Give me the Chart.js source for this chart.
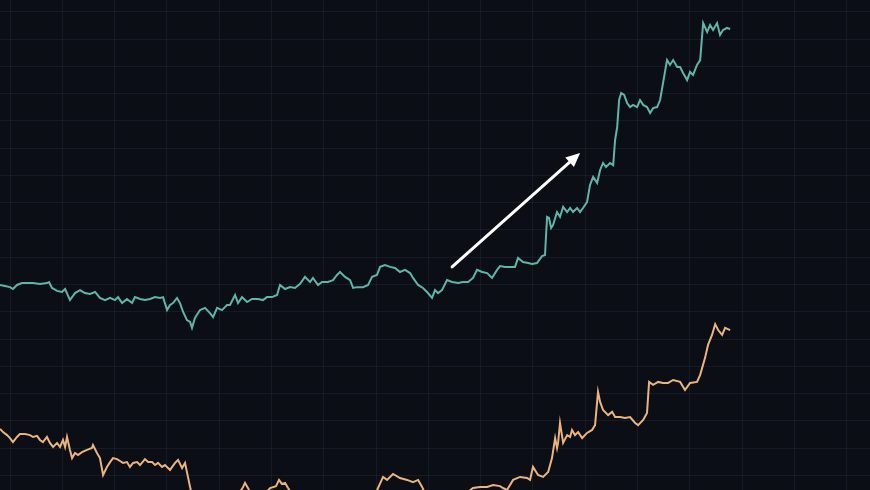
<!DOCTYPE html>
<html>
<head>
<meta charset="utf-8">
<script src="https://cdn.jsdelivr.net/npm/chart.js@4.4.1/dist/chart.umd.min.js"></script>
<style>
  html, body { margin: 0; padding: 0; background: #0b0e15; }
  #wrap { width: 870px; height: 490px; }
</style>
</head>
<body>
<div id="wrap"><canvas id="c" width="870" height="490"></canvas></div>
<script>
// ---- data (x in days, y in index points) ----
const tealDays = [-5.7,-2.9,0,1.7,4.0,6.9,9.8,13.2,17.2,21.2,
22.4,24.1,27.0,29.8,31.6,34.4,37.3,40.2,43.0,45.9,
48.8,51.6,54.5,57.4,60.2,62.0,64.3,67.1,70.0,71.7,
74.6,77.4,80.3,83.2,86.1,87.8,90.1,91.8,93.5,95.8,
97.5,99.3,101.5,103.3,104.4,106.1,107.9,109.0,111.9,114.7,
116.5,118.8,121.6,124.5,126.2,129.1,130.8,133.1,136.0,138.8,
142.3,145.1,147.4,150.3,153.2,154.9,157.8,160.6,163.5,166.4,
169.2,172.1,173.8,176.7,179.0,182.4,185.3,187.6,189.3,192.2,
195.1,196.8,199.1,202.5,205.4,207.7,210.5,212.3,215.1,218.0,
220.9,223.7,226.6,229.5,231.2,234.1,236.9,239.2,242.1,243.8,
245.5,247.8,250.7,253.6,257.0,259.9,262.8,265.6,267.9,270.8,
273.7,276.5,279.4,281.1,284.0,286.9,289.7,291.4,294.3,297.2,
299.5,302.3,305.2,306.9,307.5,308.1,309.2,310.4,311.5,313.8,
315.5,317.3,319.6,321.3,323.0,325.3,327.0,328.7,331.0,332.7,
334.5,336.8,338.5,340.2,341.9,344.2,346.0,347.1,348.3,349.4,
350.6,352.3,354.0,355.7,357.4,359.7,361.4,363.2,365.4,367.2,
368.9,371.2,372.9,374.6,376.9,378.6,380.4,382.7,384.4,386.1,
388.4,390.1,391.8,394.1,395.9,397.6,399.9,401.6,403.3,405.6,
407.3,409.0,411.3,413.1];
const tealValues = [78.9,78.5,78.1,77.4,78.9,79.6,79.6,79.6,79.3,79.6,
80.0,77.8,76.7,76.3,77.4,73.3,75.9,77.0,75.9,75.6,
76.3,74.1,73.3,74.1,73.3,74.4,72.2,73.7,72.2,74.4,
73.7,73.3,73.7,74.4,74.1,74.4,69.6,71.5,72.2,74.1,
72.2,68.9,65.9,65.2,63.0,66.7,68.5,69.6,70.4,68.5,
67.0,70.4,69.6,71.5,71.5,75.2,72.2,74.4,72.6,73.7,
73.7,73.3,74.4,74.4,75.2,78.9,77.4,78.1,77.8,79.3,
81.9,80.0,81.5,78.9,80.0,80.0,80.7,82.6,83.7,81.9,
80.7,77.8,78.1,78.1,78.9,81.9,82.6,85.6,86.3,85.6,
85.2,83.7,84.5,83.3,81.5,78.9,77.8,76.3,74.1,77.0,
75.9,77.0,80.7,80.0,79.6,80.0,80.0,81.5,84.5,83.7,
83.3,81.5,84.5,85.9,85.6,85.6,85.6,88.9,87.4,87.0,
86.7,87.0,89.6,90.0,97.4,104.1,103.7,100.0,101.1,105.9,
104.1,107.8,105.9,107.4,105.9,107.4,105.9,107.4,109.6,115.9,
118.9,116.7,121.5,124.1,122.6,124.1,123.3,132.6,137.4,147.4,
150.0,149.3,146.3,144.8,145.6,144.8,147.4,145.6,144.8,142.6,
144.4,144.8,147.4,153.7,162.2,160.4,162.2,159.6,159.6,157.4,
154.8,157.8,156.7,160.4,162.2,175.9,172.6,175.2,173.3,175.9,
171.5,173.3,174.1,173.7];

const orangeDays = [-5.7,-4.0,-1.7,0,1.7,4.0,5.7,8.6,11.5,13.2,
15.5,17.2,18.9,21.2,22.9,24.7,27.0,28.7,30.4,31.6,
32.7,34.4,35.6,37.3,39.0,41.3,44.2,47.0,47.6,49.9,
51.6,53.4,55.6,57.4,59.1,61.4,63.1,64.8,67.1,68.8,
70.6,72.9,74.6,77.4,79.2,81.5,83.2,84.9,87.2,88.9,
91.8,94.7,96.4,98.7,100.4,101.5,103.3,105.0,109.0,114.7,
120.5,126.2,130.8,133.7,134.8,136.5,138.8,142.3,146.3,149.2,
152.6,154.3,156.0,157.8,159.5,161.8,166.4,172.1,177.9,183.6,
189.3,195.1,200.8,206.5,210.0,211.1,214.0,216.3,219.7,223.7,
227.8,231.2,234.1,236.4,239.2,242.1,245.5,249.6,253.6,258.2,
262.2,265.6,269.6,273.7,277.1,281.1,282.8,285.1,288.6,292.6,
296.6,298.3,300.0,302.9,305.8,308.7,310.9,312.7,313.8,314.4,
315.5,317.3,319.6,321.3,322.4,324.1,325.9,328.2,331.0,333.9,
335.6,337.3,338.5,340.2,343.1,345.4,347.1,350.0,352.8,355.7,
358.6,360.3,363.2,365.4,366.6,368.9,371.8,374.6,377.5,380.4,
384.4,387.2,390.1,394.1,395.9,398.7,400.4,402.7,404.5,406.2,
408.5,410.2,413.1];
const orangeValues = [25.6,24.4,23.3,22.2,20.7,22.6,23.7,23.7,23.3,22.6,
23.0,21.5,20.7,22.6,20.4,18.9,20.4,18.9,21.5,18.9,
22.6,17.8,14.8,16.7,15.9,17.0,17.8,18.5,19.6,16.7,
14.8,8.5,11.5,13.3,14.8,14.4,13.7,13.0,13.3,11.5,
13.0,13.3,12.2,14.4,13.3,13.3,12.2,13.0,11.5,12.2,
10.4,13.0,14.1,11.1,13.0,9.6,4.1,-0.7,-3,-5,
-3,-1,1,4.1,5.6,3.7,1,0,1.5,3.7,
4.4,6.7,5.2,5.6,3.7,1.5,0,-1,-2,-1,
0,-1,-2,0,2,3.7,7.8,6.7,8.9,7.4,
6.7,5.9,6.7,4.1,0,-3,-1,0,-1,1,
2,3.7,4.1,4.1,4.8,4.4,3.7,3.0,6.7,7.8,
7.4,6.7,11.5,8.5,7.8,9.6,14.8,22.2,18.5,20.4,
27.8,20.4,23.3,22.6,25.2,23.3,24.4,22.2,24.1,25.2,
27.0,39.3,35.6,32.6,30.7,31.9,30.0,30.0,29.6,30.0,
27.8,27.0,28.9,31.5,43.0,41.9,43.0,42.6,42.6,43.7,
43.0,40.0,42.6,43.0,45.6,51.9,56.7,60.4,64.4,62.2,
60.4,63.0,62.2];

// annotation arrow (data units): start and tip
const arrowStart = [253.6, 85.6];
const arrowEnd = [327.0, 127.8];

// ---- chart ----
const pts = (xs, ys) => xs.map((x, i) => ({ x: x, y: ys[i] }));

const bgPlugin = {
  id: 'bg',
  beforeDraw(chart) {
    const ctx = chart.ctx;
    ctx.save();
    ctx.fillStyle = '#0b0e15';
    ctx.fillRect(0, 0, chart.width, chart.height);
    ctx.restore();
  }
};

const arrowPlugin = {
  id: 'arrow',
  afterDatasetsDraw(chart) {
    const xs = chart.scales.x, ys = chart.scales.y;
    const x1 = xs.getPixelForValue(arrowStart[0]), y1 = ys.getPixelForValue(arrowStart[1]);
    const x2 = xs.getPixelForValue(arrowEnd[0]), y2 = ys.getPixelForValue(arrowEnd[1]);
    const ang = Math.atan2(y2 - y1, x2 - x1);
    const headLen = 14, headHalf = 6.5;
    const bx = x2 - headLen * Math.cos(ang), by = y2 - headLen * Math.sin(ang);
    const ctx = chart.ctx;
    ctx.save();
    ctx.strokeStyle = '#ffffff';
    ctx.fillStyle = '#ffffff';
    ctx.lineWidth = 3;
    ctx.lineCap = 'round';
    ctx.beginPath();
    ctx.moveTo(x1, y1);
    ctx.lineTo(bx + 2 * Math.cos(ang), by + 2 * Math.sin(ang));
    ctx.stroke();
    ctx.beginPath();
    ctx.moveTo(x2, y2);
    ctx.lineTo(bx + headHalf * Math.sin(ang), by - headHalf * Math.cos(ang));
    ctx.lineTo(bx - headHalf * Math.sin(ang), by + headHalf * Math.cos(ang));
    ctx.closePath();
    ctx.fill();
    ctx.restore();
  }
};

const gridColor = 'rgba(120,140,175,0.10)';

new Chart(document.getElementById('c'), {
  type: 'line',
  data: {
    datasets: [
      { data: pts(tealDays, tealValues), borderColor: '#5fb5a7', borderWidth: 2, pointRadius: 0, tension: 0 },
      { data: pts(orangeDays, orangeValues), borderColor: '#ebb47f', borderWidth: 2, pointRadius: 0, tension: 0 }
    ]
  },
  options: {
    responsive: false,
    animation: false,
    layout: { padding: 0 },
    plugins: { legend: { display: false }, tooltip: { enabled: false } },
    scales: {
      x: {
        type: 'linear',
        min: -10 / 1.7433,
        max: 860 / 1.7433,
        afterBuildTicks(axis) {
          const t = [];
          for (let v = 0; v <= 480; v += 30) t.push({ value: v });
          axis.ticks = t;
        },
        ticks: { display: false },
        grid: { color: gridColor, lineWidth: 1, drawTicks: false },
        border: { display: false }
      },
      y: {
        type: 'linear',
        min: 8 / 2.7,
        max: 498 / 2.7,
        afterBuildTicks(axis) {
          const t = [];
          for (let k = 0; k < 18; k++) t.push({ value: (486 - 27.25 * k) / 2.7 });
          axis.ticks = t;
        },
        ticks: { display: false },
        grid: { color: gridColor, lineWidth: 1, drawTicks: false },
        border: { display: false }
      }
    }
  },
  plugins: [bgPlugin, arrowPlugin]
});
</script>
</body>
</html>
